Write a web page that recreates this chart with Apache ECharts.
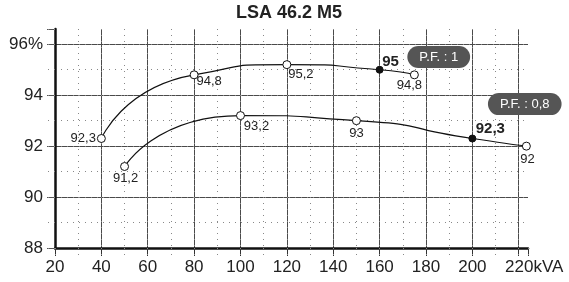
<!DOCTYPE html>
<html>
<head>
<meta charset="utf-8">
<script src="https://cdn.jsdelivr.net/npm/echarts@6/dist/echarts.min.js"></script>
<style>
  html, body { margin: 0; padding: 0; background: #fff; }
  #chart { width: 569px; height: 282px; }
</style>
</head>
<body>
<div id="chart"></div>
<script>
// values
const chartTitle = 'LSA 46.2 M5';
const pf1Name = 'P.F. : 1';
const pf08Name = 'P.F. : 0,8';

const pf1Kva = [40, 80, 120, 160, 175];
const pf1Eff = [92.3, 94.8, 95.2, 95, 94.8];
const pf1Rated = 3;   // index of the filled point

const pf08Kva = [50, 100, 150, 200, 223.3];
const pf08Eff = [91.2, 93.2, 93, 92.3, 92];
const pf08Rated = 3;

const xTicks = [20, 40, 60, 80, 100, 120, 140, 160, 180, 200, 220];
const yTicks = [88, 90, 92, 94, 96];

const font = '"Liberation Sans", Arial, sans-serif';

// label placement per point
const pf1LabelPos = [
    { position: 'left', distance: 2, offset: [1, 0] },
    { position: 'bottom', distance: 2, offset: [15, -6] },
    { position: 'bottom', distance: 2, offset: [14, -3] },
    { position: 'top', distance: 2, offset: [11, 6], fontWeight: 'bold', fontSize: 15 },
    { position: 'bottom', distance: 2, offset: [-5, -2] }
];
const pf08LabelPos = [
    { position: 'bottom', distance: 2, offset: [1, -1] },
    { position: 'bottom', distance: 2, offset: [16, -2] },
    { position: 'bottom', distance: 2, offset: [0, 0] },
    { position: 'top', distance: 2, offset: [18, 4], fontWeight: 'bold', fontSize: 15 },
    { position: 'bottom', distance: 2, offset: [1, 0] }
];

function points(xs, ys, rated, labelPos) {
    return xs.map(function (x, i) {
        let filled = i === rated;
        return {
            value: [x, ys[i]],
            symbolSize: filled ? 7 : 8,
            itemStyle: filled
                ? { color: '#111', borderColor: '#111', borderWidth: 1 }
                : { color: '#fff', borderColor: '#111', borderWidth: 1 },
            label: Object.assign({
                show: true,
                formatter: String(ys[i]).replace('.', ',')
            }, labelPos[i])
        };
    });
}

function badge(coord, text) {
    return {
        symbol: 'circle',
        symbolSize: 1,
        itemStyle: { color: 'rgba(0,0,0,0)' },
        label: {
            show: true,
            position: 'inside',
            formatter: text,
            color: '#fff',
            fontSize: 13,
            fontFamily: font,
            lineHeight: 14,
            backgroundColor: '#555',
            borderRadius: 11,
            padding: [4, 12]
        },
        data: [{ coord: coord }]
    };
}

const dotted = { color: '#888', width: 1, type: [1, 5] };
const solid = { color: '#4a4a4a', width: 1 };

const chart = echarts.init(document.getElementById('chart'));
chart.setOption({
    animation: false,
    backgroundColor: '#fff',
    title: {
        text: chartTitle,
        left: 236,
        top: 4,
        padding: 0,
        textStyle: { fontSize: 18, fontWeight: 'bold', color: '#222', fontFamily: font }
    },
    grid: { left: 55, right: 41, top: 29, bottom: 34, containLabel: false },
    xAxis: [
        {
            type: 'value', min: 20, max: 224, interval: 20, position: 'bottom',
            axisLine: { show: true, onZero: false, lineStyle: { color: '#111', width: 2.5 } },
            axisTick: { show: true, length: 8, lineStyle: { color: '#333' } },
            axisLabel: {
                fontSize: 17, color: '#222', fontFamily: font, margin: 11,
                formatter: function (v) {
                    if (xTicks.indexOf(v) < 0) return '';
                    return v === 220 ? '{a|220}{b|kVA}' : String(v);
                },
                rich: {
                    a: { fontSize: 17, color: '#222', fontFamily: font, padding: [0, 0, 0, 31] },
                    b: { fontSize: 17, color: '#222', fontFamily: font }
                }
            },
            splitLine: { show: true, showMinLine: false, showMaxLine: false, lineStyle: solid }
        },
        {
            type: 'value', min: 20, max: 224, interval: 10, position: 'bottom',
            axisLine: { show: false },
            axisTick: { show: true, length: 8, lineStyle: dotted },
            axisLabel: { show: false },
            splitLine: { show: true, showMinLine: false, showMaxLine: false, lineStyle: dotted }
        }
    ],
    yAxis: [
        {
            type: 'value', min: 88, max: 96.6, interval: 2, position: 'left',
            axisLine: { show: true, onZero: false, lineStyle: { color: '#111', width: 2.5 } },
            axisTick: { show: true, length: 8, lineStyle: { color: '#555' } },
            axisLabel: {
                fontSize: 17, color: '#222', fontFamily: font, margin: 12,
                formatter: function (v) {
                    if (yTicks.indexOf(v) < 0) return '';
                    return v === 96 ? '96%' : String(v);
                }
            },
            splitLine: { show: true, showMinLine: false, showMaxLine: false, lineStyle: solid }
        },
        {
            type: 'value', min: 88, max: 96.6, interval: 1, position: 'left',
            axisLine: { show: false },
            axisTick: { show: true, length: 8, lineStyle: dotted },
            axisLabel: { show: false },
            splitLine: { show: true, showMinLine: false, showMaxLine: false, lineStyle: dotted }
        }
    ],
    series: [
        {
            name: pf1Name,
            type: 'line',
            smooth: 0.7,
            symbol: 'circle',
            lineStyle: { color: '#111', width: 1.2 },
            label: { fontSize: 13, color: '#222', fontFamily: font },
            data: points(pf1Kva, pf1Eff, pf1Rated, pf1LabelPos),
            markPoint: badge([185.5, 95.5], pf1Name),
            z: 3
        },
        {
            name: pf08Name,
            type: 'line',
            smooth: 0.7,
            symbol: 'circle',
            lineStyle: { color: '#111', width: 1.2 },
            label: { fontSize: 13, color: '#222', fontFamily: font },
            data: points(pf08Kva, pf08Eff, pf08Rated, pf08LabelPos),
            markPoint: badge([222.6, 93.65], pf08Name),
            z: 3
        }
    ]
});
</script>
</body>
</html>
